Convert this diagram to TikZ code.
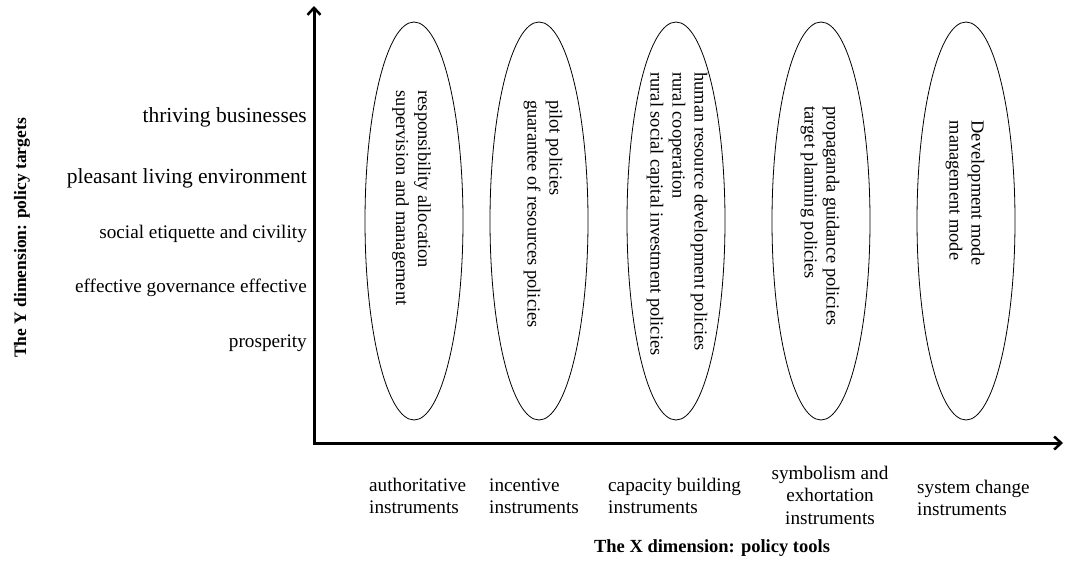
\documentclass[tikz,border=0pt]{standalone}
\usepackage{fontspec}
\setmainfont{Liberation Serif}
\usetikzlibrary{shapes,arrows.meta,positioning}

\begin{document}
\begin{tikzpicture}[
    x=1pt, y=-1pt,
    toolring/.style={draw, ellipse, minimum width=98pt, minimum height=398pt, inner sep=0pt, line width=0.8pt},
    ringtext/.style={rotate=-90, align=left, inner sep=0pt, font=\fontsize{18.4}{22}\selectfont},
    target/.style={anchor=east, inner sep=0pt, font=\fontsize{19.2}{23}\selectfont},
    bigtarget/.style={target, font=\fontsize{21.5}{25}\selectfont},
    tool/.style={anchor=west, align=left, inner sep=0pt, font=\fontsize{19.2}{22.5}\selectfont},
    dimtitle/.style={inner sep=0pt, font=\bfseries},
    axis/.style={{Straight Barb[length=7pt,width=13pt,line width=2.5pt]}-{Straight Barb[length=7pt,width=13pt,line width=2.5pt]}, line width=3pt},
]
    \useasboundingbox (0,0) rectangle (1065,563);

    % axes
    \coordinate (origin) at (314,443);
    \coordinate (ytip) at (314,6);
    \coordinate (xtip) at (1063,443);
    \draw[axis] (ytip) -- (origin) -- (xtip);

    % policy tool ellipses
    \node[toolring] (r1) at (414,221) {};
    \node[toolring] (r2) at (539,221) {};
    \node[toolring] (r3) at (676,221) {};
    \node[toolring] (r4) at (821,221) {};
    \node[toolring] (r5) at (966,221) {};

    \node[ringtext] (p1) at (411.5,198) {responsibility allocation\\supervision and management};
    \node[ringtext] (p2) at (543,214) {pilot policies\\guarantee of resources policies};
    \node[ringtext] (p3) at (677,214) {human resource development policies\\rural cooperation\\rural social capital investment policies};
    \node[ringtext] (p4) at (820,216) {propaganda guidance policies\\target planning policies};
    \node[ringtext] (p5) at (965,193) {Development mode\\management mode};

    % policy targets
    \node[bigtarget] (t1) at (307,117) {thriving businesses};
    \node[bigtarget] (t2) at (307,178) {pleasant living environment};
    \node[target] (t3) at (307,234) {social etiquette and civility};
    \node[target] (t4) at (307,288) {effective governance effective};
    \node[target] (t5) at (307,343) {prosperity};

    % policy tools
    \node[tool] (k1) at (369,496) {authoritative\\instruments};
    \node[tool] (k2) at (489,496) {incentive\\instruments};
    \node[tool] (k3) at (608,496) {capacity building\\instruments};
    \node[tool, anchor=center, align=center] (k4) at (830,495) {symbolism and\\exhortation\\instruments};
    \node[tool] (k5) at (917,498) {system change\\instruments};

    % dimension titles
    \node[dimtitle, rotate=90, font=\bfseries\fontsize{17.5}{20}\selectfont] (ydim) at (22,238) {The Y dimension: policy targets};
    \node[dimtitle, font=\bfseries\fontsize{18.5}{21}\selectfont] (xdim) at (712,548) {The X dimension: policy tools};
\end{tikzpicture}
\end{document}
